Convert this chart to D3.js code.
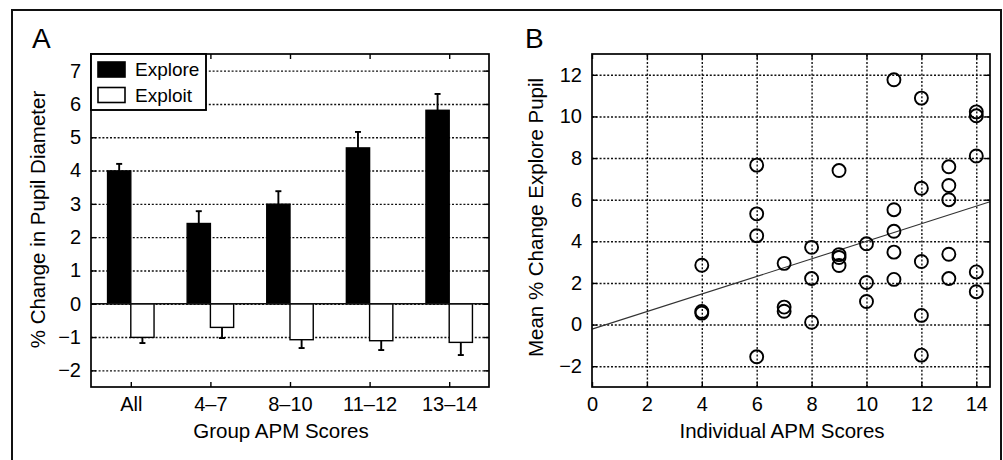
<!DOCTYPE html>
<html>
<head>
<meta charset="utf-8">
<script src="https://cdn.jsdelivr.net/npm/d3@7"></script>
<style>
  html, body { margin: 0; padding: 0; background: #fff; }
  svg { display: block; font-family: "Liberation Sans", Arial, Helvetica, sans-serif; }
</style>
</head>
<body>
<svg id="chart" width="1003" height="460"></svg>
<script>
// ---------- Panel A data ----------
const groups = ["All", "4\u20137", "8\u201310", "11\u201312", "13\u201314"];
const series = ["Explore", "Exploit"];
const exploreMean = [3.99, 2.41, 2.99, 4.68, 5.81];
const exploreErr  = [0.21, 0.37, 0.39, 0.48, 0.49];
const exploitMean = [-1.01, -0.71, -1.08, -1.11, -1.16];
const exploitErr  = [0.17, 0.32, 0.25, 0.28, 0.38];
const yTicksA = [-2, -1, 0, 1, 2, 3, 4, 5, 6, 7];

// ---------- Panel B data ----------
const apmScores = [4, 4, 4, 6, 6, 6, 6, 7, 7, 7, 8, 8, 8, 9, 9, 9, 9, 10, 10, 10,
                   11, 11, 11, 11, 11, 12, 12, 12, 12, 12, 13, 13, 13, 13, 13, 14, 14, 14, 14, 14];
const pupilChange = [2.85, 0.63, 0.55, 7.66, 5.32, 4.27, -1.55, 2.94, 0.84, 0.64,
                     3.71, 2.21, 0.11, 7.40, 3.36, 3.22, 2.84, 3.88, 2.02, 1.11,
                     11.76, 5.52, 4.48, 3.48, 2.17, 10.88, 6.55, 3.03, 0.44, -1.47,
                     7.58, 6.68, 6.00, 3.38, 2.21, 10.22, 10.03, 8.10, 2.53, 1.58];
const fitX = [0, 14.5];
const fitY = [-0.22, 5.90];
const xTicksB = [0, 2, 4, 6, 8, 10, 12, 14];
const yTicksB = [-2, 0, 2, 4, 6, 8, 10, 12];

const minus = s => String(s).replace("-", "\u2212");
const svg = d3.select("#chart");
const TXT = "#000";

// outer frame
svg.append("rect").attr("x", 12).attr("y", 10).attr("width", 989).attr("height", 470)
  .attr("fill", "none").attr("stroke", "#111").attr("stroke-width", 2);

function styleAxis(g, fs) {
  g.attr("font-family", null).attr("font-size", null);
  g.selectAll("text").attr("font-size", fs).attr("fill", TXT)
    .attr("font-family", "'Liberation Sans', Arial, Helvetica, sans-serif");
  g.selectAll("line").attr("stroke", "#000").attr("stroke-width", 1.4);
  g.select(".domain").remove();
}
function gridify(g) {
  g.select(".domain").remove();
  g.selectAll("text").remove();
  g.selectAll("line").attr("stroke", "#111").attr("stroke-width", 1.4).attr("stroke-dasharray", "2,1.8");
}

// ================= PANEL A =================
const A = { l: 91, r: 489, t: 54, b: 387 };
const yA = d3.scaleLinear().domain([-2.5, 7.5]).range([A.b, A.t]);
const x0 = d3.scaleBand().domain(groups).range([A.l, A.r]).paddingInner(0.416).paddingOuter(0.208);
const x1 = d3.scaleBand().domain(series).range([0, x0.bandwidth()]);
const center = g => x0(g) + x0.bandwidth() / 2;
const xCenters = d3.scalePoint().domain(groups).range([center(groups[0]), center(groups[groups.length - 1])]);

const gA = svg.append("g");
// grid
gA.append("g").attr("transform", `translate(${A.l},0)`)
  .call(d3.axisLeft(yA).tickValues(yTicksA).tickSize(-(A.r - A.l)).tickFormat(""))
  .call(gridify);

// bars
const barData = [];
groups.forEach((g, i) => {
  barData.push({ g, s: "Explore", v: exploreMean[i], e: exploreErr[i] });
  barData.push({ g, s: "Exploit", v: exploitMean[i], e: exploitErr[i] });
});
gA.selectAll("rect.bar").data(barData).enter().append("rect")
  .attr("class", "bar")
  .attr("x", d => x0(d.g) + x1(d.s))
  .attr("width", x1.bandwidth())
  .attr("y", d => yA(Math.max(0, d.v)))
  .attr("height", d => Math.abs(yA(d.v) - yA(0)))
  .attr("fill", d => d.s === "Explore" ? "#000" : "#fff")
  .attr("stroke", "#000").attr("stroke-width", 1.4);

// baseline
gA.append("line").attr("x1", A.l).attr("x2", A.r).attr("y1", yA(0)).attr("y2", yA(0))
  .attr("stroke", "#111").attr("stroke-width", 1.3);

// error bars
const capW = 6;
barData.forEach(d => {
  const cx = x0(d.g) + x1(d.s) + x1.bandwidth() / 2;
  const end = d.v >= 0 ? d.v + d.e : d.v - d.e;
  gA.append("line").attr("x1", cx).attr("x2", cx).attr("y1", yA(d.v)).attr("y2", yA(end))
    .attr("stroke", "#000").attr("stroke-width", 1.9);
  gA.append("line").attr("x1", cx - capW / 2).attr("x2", cx + capW / 2).attr("y1", yA(end)).attr("y2", yA(end))
    .attr("stroke", "#000").attr("stroke-width", 1.9);
});

// axes (inward ticks)
gA.append("g").attr("transform", `translate(${A.l},0)`)
  .call(d3.axisLeft(yA).tickValues(yTicksA).tickSize(-5).tickPadding(10).tickFormat(d => minus(d)))
  .call(g => styleAxis(g, 20));
gA.append("g").attr("transform", `translate(${A.r},0)`)
  .call(d3.axisRight(yA).tickValues(yTicksA).tickSize(-5).tickFormat(""))
  .call(g => styleAxis(g, 20));
gA.append("g").attr("transform", `translate(0,${A.b})`)
  .call(d3.axisBottom(xCenters).tickSize(-5).tickPadding(10))
  .call(g => styleAxis(g, 20));
gA.append("g").attr("transform", `translate(0,${A.t})`)
  .call(d3.axisTop(xCenters).tickSize(-5).tickFormat(""))
  .call(g => styleAxis(g, 20));
// box
gA.append("rect").attr("x", A.l).attr("y", A.t).attr("width", A.r - A.l).attr("height", A.b - A.t)
  .attr("fill", "none").attr("stroke", "#000").attr("stroke-width", 1.7);

// legend
const leg = gA.append("g");
leg.append("rect").attr("x", 91).attr("y", 54).attr("width", 115).attr("height", 56)
  .attr("fill", "#fff").attr("stroke", "#000").attr("stroke-width", 1.9);
series.forEach((s, i) => {
  leg.append("rect").attr("x", 98).attr("y", 62 + i * 25.5).attr("width", 27).attr("height", 15)
    .attr("fill", s === "Explore" ? "#000" : "#fff").attr("stroke", "#000").attr("stroke-width", 1.6);
  leg.append("text").attr("x", 135).attr("y", 76 + i * 25.5).attr("font-size", 19).attr("fill", TXT).text(s);
});

// titles
svg.append("text").attr("x", 32).attr("y", 48).attr("font-size", 28).attr("fill", TXT).text("A");
svg.append("text").attr("x", 281).attr("y", 438).attr("text-anchor", "middle").attr("font-size", 20.5)
  .attr("fill", TXT).text("Group APM Scores");
svg.append("text").attr("transform", "translate(44.5,219.5) rotate(-90)").attr("text-anchor", "middle")
  .attr("font-size", 20.5).attr("fill", TXT).text("% Change in Pupil Diameter");

// ================= PANEL B =================
const B = { l: 592, r: 990, t: 54, b: 387 };
const xB = d3.scaleLinear().domain([0, 14.5]).range([B.l, B.r]);
const yB = d3.scaleLinear().domain([-3, 13]).range([B.b, B.t]);
const gB = svg.append("g");

gB.append("g").attr("transform", `translate(${B.l},0)`)
  .call(d3.axisLeft(yB).tickValues(yTicksB).tickSize(-(B.r - B.l)).tickFormat(""))
  .call(gridify);
gB.append("g").attr("transform", `translate(0,${B.b})`)
  .call(d3.axisBottom(xB).tickValues(xTicksB.filter(v => v > 0)).tickSize(-(B.b - B.t)).tickFormat(""))
  .call(gridify);

// fit line
gB.append("line").attr("x1", xB(fitX[0])).attr("y1", yB(fitY[0]))
  .attr("x2", xB(fitX[1])).attr("y2", yB(fitY[1]))
  .attr("stroke", "#333").attr("stroke-width", 1.1);

// points
gB.selectAll("circle").data(apmScores.map((s, i) => [s, pupilChange[i]])).enter().append("circle")
  .attr("cx", d => xB(d[0])).attr("cy", d => yB(d[1])).attr("r", 6.5)
  .attr("fill", "none").attr("stroke", "#000").attr("stroke-width", 1.9);

// axes
gB.append("g").attr("transform", `translate(${B.l},0)`)
  .call(d3.axisLeft(yB).tickValues(yTicksB).tickSize(-5).tickPadding(10).tickFormat(d => minus(d)))
  .call(g => styleAxis(g, 20));
gB.append("g").attr("transform", `translate(${B.r},0)`)
  .call(d3.axisRight(yB).tickValues(yTicksB).tickSize(-5).tickFormat(""))
  .call(g => styleAxis(g, 20));
gB.append("g").attr("transform", `translate(0,${B.b})`)
  .call(d3.axisBottom(xB).tickValues(xTicksB).tickSize(-5).tickPadding(10))
  .call(g => styleAxis(g, 20));
gB.append("g").attr("transform", `translate(0,${B.t})`)
  .call(d3.axisTop(xB).tickValues(xTicksB).tickSize(-5).tickFormat(""))
  .call(g => styleAxis(g, 20));
gB.append("rect").attr("x", B.l).attr("y", B.t).attr("width", B.r - B.l).attr("height", B.b - B.t)
  .attr("fill", "none").attr("stroke", "#000").attr("stroke-width", 1.7);

svg.append("text").attr("x", 525).attr("y", 48).attr("font-size", 28).attr("fill", TXT).text("B");
svg.append("text").attr("x", 782).attr("y", 438).attr("text-anchor", "middle").attr("font-size", 20.5)
  .attr("fill", TXT).text("Individual APM Scores");
svg.append("text").attr("transform", "translate(543,217.5) rotate(-90)").attr("text-anchor", "middle")
  .attr("font-size", 20.5).attr("fill", TXT).text("Mean % Change Explore Pupil");
</script>
</body>
</html>
